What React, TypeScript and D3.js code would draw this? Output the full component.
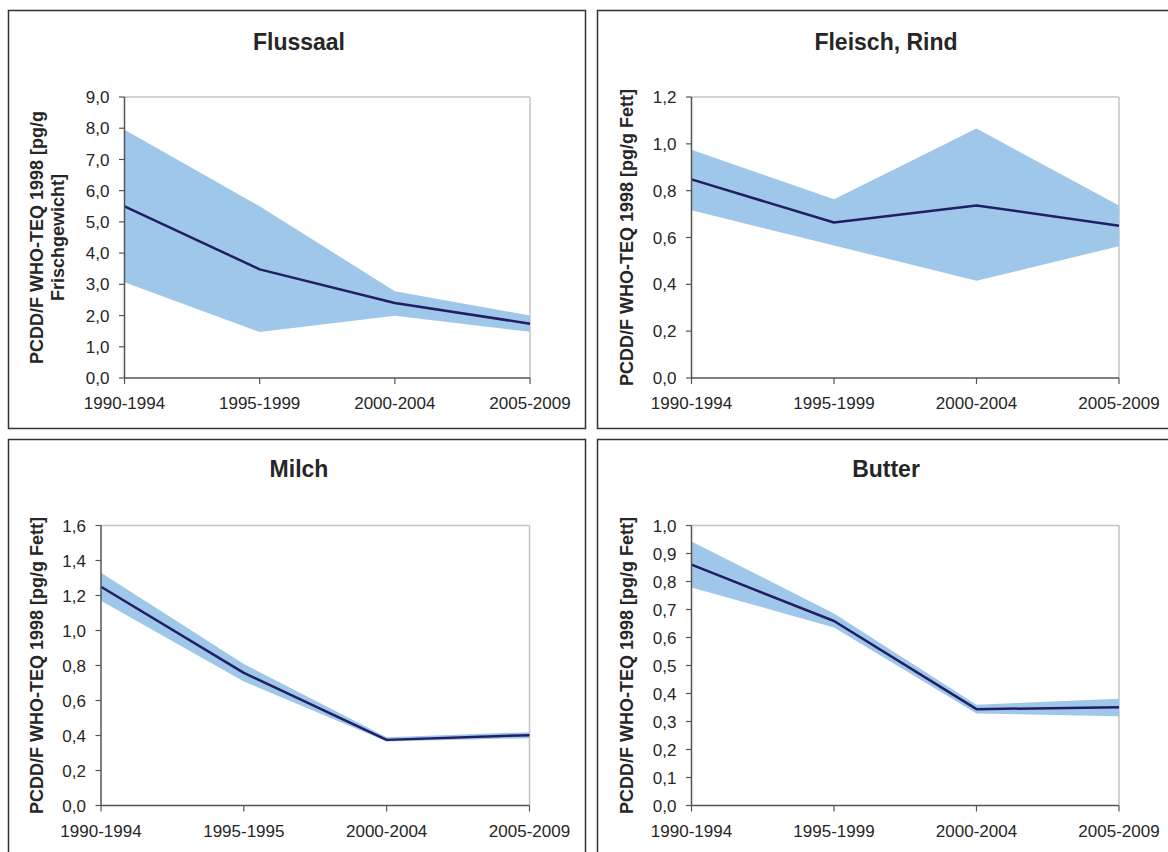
import { useMemo } from 'react';
import * as d3 from 'd3';

// categories
const periods = ['1990-1994', '1995-1999', '2000-2004', '2005-2009'];
const periodsMilch = ['1990-1994', '1995-1995', '2000-2004', '2005-2009'];

// Flussaal [pg/g Frischgewicht]
const flussaalMean = [5.5, 3.48, 2.4, 1.74];
const flussaalUpper = [7.95, 5.5, 2.78, 2.0];
const flussaalLower = [3.07, 1.47, 1.99, 1.48];
const flussaalTicks = [0, 1, 2, 3, 4, 5, 6, 7, 8, 9];

// Fleisch, Rind [pg/g Fett]
const rindMean = [0.848, 0.664, 0.737, 0.65];
const rindUpper = [0.975, 0.763, 1.065, 0.737];
const rindLower = [0.716, 0.566, 0.415, 0.563];
const rindTicks = [0, 0.2, 0.4, 0.6, 0.8, 1.0, 1.2];

// Milch [pg/g Fett]
const milchMean = [1.25, 0.758, 0.375, 0.402];
const milchUpper = [1.33, 0.808, 0.39, 0.419];
const milchLower = [1.17, 0.709, 0.366, 0.385];
const milchTicks = [0, 0.2, 0.4, 0.6, 0.8, 1.0, 1.2, 1.4, 1.6];

// Butter [pg/g Fett]
const butterMean = [0.86, 0.659, 0.344, 0.351];
const butterUpper = [0.943, 0.686, 0.36, 0.381];
const butterLower = [0.779, 0.636, 0.329, 0.319];
const butterTicks = [0, 0.1, 0.2, 0.3, 0.4, 0.5, 0.6, 0.7, 0.8, 0.9, 1.0];

const labelFett = ['PCDD/F WHO-TEQ 1998 [pg/g Fett]'];
const labelFrisch = ['PCDD/F WHO-TEQ 1998 [pg/g', 'Frischgewicht]'];

const FONT = '"Liberation Sans", Arial, sans-serif';
const TEXT = '#262626';
const BAND = '#9fc7ea';
const LINE = '#221e62';
const AXIS = '#555';
const FRAME_GRID = '#c4c4c4';

const fmt = (v: number) => d3.format('.1f')(v).replace('.', ',');

type Panel = {
  title: string;
  cats: string[];
  mean: number[];
  upper: number[];
  lower: number[];
  ticks: number[];
  yLabel: string[];
  frame: { x: number; y: number; w: number; h: number };
  plot: { l: number; t: number; r: number; b: number };
  labelX: number[];
  titleX: number;
  titleY: number;
};

const panels: Panel[] = [
  {
    title: 'Flussaal', cats: periods, mean: flussaalMean, upper: flussaalUpper, lower: flussaalLower,
    ticks: flussaalTicks, yLabel: labelFrisch,
    frame: { x: 8.5, y: 10.5, w: 577, h: 418 },
    plot: { l: 124.5, t: 97, r: 530, b: 378 },
    labelX: [37, 58], titleX: 299, titleY: 50,
  },
  {
    title: 'Fleisch, Rind', cats: periods, mean: rindMean, upper: rindUpper, lower: rindLower,
    ticks: rindTicks, yLabel: labelFett,
    frame: { x: 597.5, y: 10.5, w: 620, h: 418 },
    plot: { l: 691.5, t: 97, r: 1119, b: 378 },
    labelX: [627], titleX: 886, titleY: 50,
  },
  {
    title: 'Milch', cats: periodsMilch, mean: milchMean, upper: milchUpper, lower: milchLower,
    ticks: milchTicks, yLabel: labelFett,
    frame: { x: 8.5, y: 439.5, w: 577, h: 460 },
    plot: { l: 101, t: 525.5, r: 529.5, b: 805.5 },
    labelX: [37], titleX: 299, titleY: 477,
  },
  {
    title: 'Butter', cats: periods, mean: butterMean, upper: butterUpper, lower: butterLower,
    ticks: butterTicks, yLabel: labelFett,
    frame: { x: 597.5, y: 439.5, w: 620, h: 460 },
    plot: { l: 691.5, t: 525.5, r: 1119, b: 805.5 },
    labelX: [627], titleX: 886, titleY: 477,
  },
];

function ChartPanel({ p }: { p: Panel }) {
  const { x, y, area, line } = useMemo(() => {
    const x = d3.scalePoint<string>().domain(p.cats).range([p.plot.l, p.plot.r]).padding(0);
    const y = d3.scaleLinear().domain([0, d3.max(p.ticks) as number]).range([p.plot.b, p.plot.t]);
    const rows = p.cats.map((c, i) => ({ c, m: p.mean[i], u: p.upper[i], lo: p.lower[i] }));
    const area = d3.area<any>().x(d => x(d.c) as number).y0(d => y(d.lo)).y1(d => y(d.u))(rows);
    const line = d3.line<any>().x(d => x(d.c) as number).y(d => y(d.m))(rows);
    return { x, y, area, line };
  }, [p]);

  const midY = (p.plot.t + p.plot.b) / 2;

  return (
    <g fontFamily={FONT} fill={TEXT}>
      <rect x={p.frame.x} y={p.frame.y} width={p.frame.w} height={p.frame.h}
        fill="#fff" stroke="#333" strokeWidth={1.5} />
      <text x={p.titleX} y={p.titleY} textAnchor="middle" fontSize={23} fontWeight="bold">{p.title}</text>

      {/* plot frame (top / right) */}
      <line x1={p.plot.l} x2={p.plot.r} y1={p.plot.t} y2={p.plot.t} stroke={FRAME_GRID} strokeWidth={1.5} />
      <line x1={p.plot.r} x2={p.plot.r} y1={p.plot.t} y2={p.plot.b} stroke={FRAME_GRID} strokeWidth={1.5} />

      <path d={area ?? ''} fill={BAND} stroke="none" />
      <path d={line ?? ''} fill="none" stroke={LINE} strokeWidth={2.5} strokeLinejoin="round" />

      {/* Y axis */}
      <line x1={p.plot.l} x2={p.plot.l} y1={p.plot.t} y2={p.plot.b} stroke={AXIS} strokeWidth={1.5} />
      {p.ticks.map(t => (
        <g key={t}>
          <line x1={p.plot.l - 5.5} x2={p.plot.l} y1={y(t)} y2={y(t)} stroke={AXIS} strokeWidth={1.2} />
          <text x={p.plot.l - 15} y={y(t)} dy="0.36em" textAnchor="end" fontSize={17}>{fmt(t)}</text>
        </g>
      ))}

      {/* X axis */}
      <line x1={p.plot.l} x2={p.plot.r} y1={p.plot.b} y2={p.plot.b} stroke={AXIS} strokeWidth={1.5} />
      {p.cats.map(c => (
        <g key={c}>
          <line x1={x(c)} x2={x(c)} y1={p.plot.b} y2={p.plot.b + 6} stroke={AXIS} strokeWidth={1.2} />
          <text x={x(c)} y={p.plot.b + 31} textAnchor="middle" fontSize={17}>{c}</text>
        </g>
      ))}

      {p.yLabel.map((s, i) => (
        <text key={i} transform={`translate(${p.labelX[i]},${midY}) rotate(-90)`}
          textAnchor="middle" dominantBaseline="central" fontSize={18} fontWeight="bold">{s}</text>
      ))}
    </g>
  );
}

export default function App() {
  return (
    <svg width={1168} height={852} viewBox="0 0 1168 852"
      style={{ position: 'absolute', left: 0, top: 0, background: '#fff' }}>
      <rect width={1168} height={852} fill="#fff" />
      {panels.map(p => <ChartPanel key={p.title} p={p} />)}
    </svg>
  );
}
